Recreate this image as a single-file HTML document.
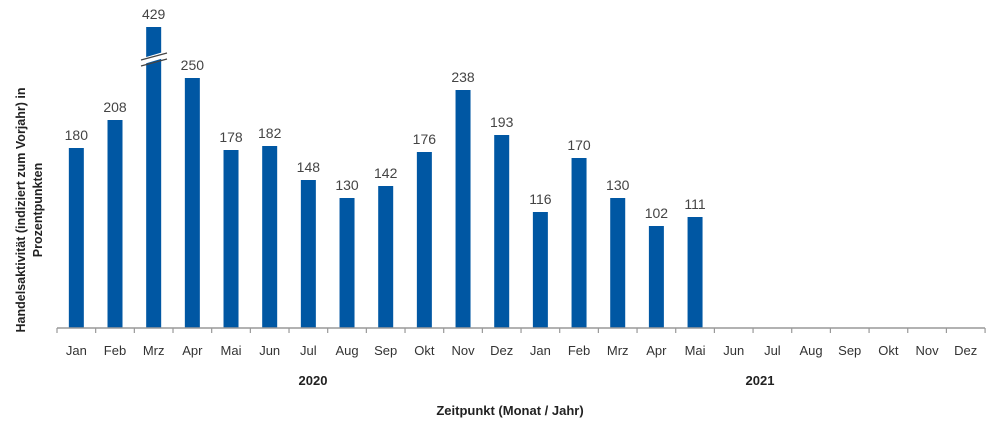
<!DOCTYPE html>
<html><head><meta charset="utf-8"><style>body{margin:0;background:#fff}svg{display:block}text{font-family:"Liberation Sans",sans-serif}</style></head><body>
<svg width="1000" height="428" xmlns="http://www.w3.org/2000/svg">
<g id="bars" fill="#0057a3"></g>
<g id="lab" fill="#444" font-size="14" text-anchor="middle"></g>
<line x1="57" y1="328" x2="985" y2="328" stroke="#999" stroke-width="1.5"/>
<g id="ticks" stroke="#999" stroke-width="1.2"></g>
<g id="cat" fill="#333" font-size="13" text-anchor="middle"></g>
<line x1="140" y1="62" x2="167" y2="54" stroke="#fff" stroke-width="6"/>
<line x1="141" y1="60" x2="167" y2="53" stroke="#444" stroke-width="1.3"/>
<line x1="141" y1="66" x2="167" y2="59" stroke="#444" stroke-width="1.3"/>
<text x="313" y="385" font-size="13" font-weight="bold" fill="#222" text-anchor="middle">2020</text>
<text x="760" y="385" font-size="13" font-weight="bold" fill="#222" text-anchor="middle">2021</text>
<text x="510" y="415" font-size="13" font-weight="bold" fill="#222" text-anchor="middle">Zeitpunkt (Monat / Jahr)</text>
<text transform="translate(25,210) rotate(-90)" font-size="12.5" font-weight="bold" fill="#222" text-anchor="middle">Handelsaktivität (indiziert zum Vorjahr) in</text>
<text transform="translate(42,210) rotate(-90)" font-size="12.5" font-weight="bold" fill="#222" text-anchor="middle">Prozentpunkten</text>
</svg>
<script>
var v=[180,208,429,250,178,182,148,130,142,176,238,193,116,170,130,102,111];
var m=["Jan","Feb","Mrz","Apr","Mai","Jun","Jul","Aug","Sep","Okt","Nov","Dez"];
var s=38.67,x0=57,b=328,ns="http://www.w3.org/2000/svg";
function el(p,t,a,tx){var e=document.createElementNS(ns,t);for(var k in a)e.setAttribute(k,a[k]);if(tx)e.textContent=tx;document.getElementById(p).appendChild(e);}
for(var i=0;i<24;i++){var c=x0+s*(i+0.5);
el("cat","text",{x:c,y:355},m[i%12]);
el("ticks","line",{x1:x0+s*i,y1:328,x2:x0+s*i,y2:333});
if(i<v.length){var h=v[i]>300?301:v[i];
el("bars","rect",{x:c-7.5,y:b-h,width:15,height:h});
el("lab","text",{x:c,y:b-h-8},v[i]);}}
el("ticks","line",{x1:x0+s*24,y1:328,x2:x0+s*24,y2:333});
</script>
</body></html>
